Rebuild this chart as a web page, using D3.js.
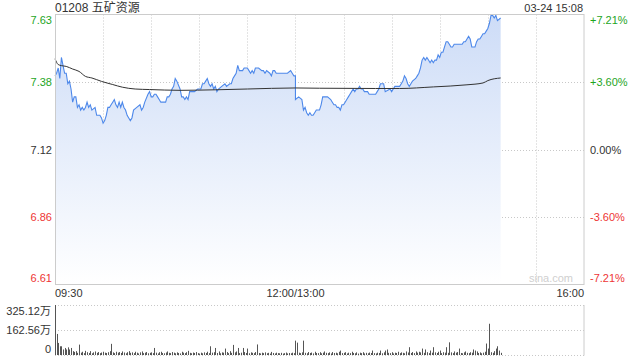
<!DOCTYPE html>
<html><head><meta charset="utf-8">
<script src="https://cdn.jsdelivr.net/npm/d3@7"></script>
<style>
html,body{margin:0;padding:0;background:#fff;}
svg text{font-family:"Liberation Sans",Arial,"Noto Sans CJK SC",sans-serif;}
</style></head>
<body><svg id="c" width="640" height="360"></svg>
<script>
const title = "01208 五矿资源";
const stamp = "03-24 15:08";
const preClose = 7.12;
const priceTickLabels = ["7.63","7.38","7.12","6.86","6.61"];
const pctTickLabels = ["+7.21%","+3.60%","0.00%","-3.60%","-7.21%"];
const timeLabels = ["09:30","12:00/13:00","16:00"];
const volTickLabels = ["325.12万","162.56万","0"];
const volMax = 325.12;

const priceTimes = ["09:30","09:31","09:32","09:33","09:34","09:35","09:36","09:37","09:38","09:39","09:40","09:41","09:42","09:43","09:44","09:45","09:46","09:47","09:48","09:49","09:50","09:51","09:52","09:53","09:55","09:56","09:57","09:58","09:59","10:00","10:01","10:02","10:03","10:04","10:05","10:06","10:07","10:08","10:09","10:10","10:11","10:12","10:13","10:14","10:15","10:16","10:17","10:18","10:19","10:21","10:23","10:24","10:25","10:26","10:28","10:29","10:30","10:31","10:32","10:33","10:34","10:35","10:36","10:37","10:38","10:39","10:40","10:41","10:42","10:43","10:44","10:45","10:46","10:48","10:49","10:50","10:51","10:52","10:53","10:54","10:57","10:59","11:01","11:02","11:03","11:04","11:05","11:06","11:07","11:08","11:09","11:10","11:11","11:12","11:14","11:16","11:17","11:19","11:20","11:21","11:22","11:23","11:24","11:25","11:26","11:27","11:28","11:29","11:30","11:31","11:32","11:33","11:34","11:35","11:37","11:39","11:40","11:41","11:42","11:44","11:45","11:46","11:47","11:48","11:49","11:55","11:57","11:58","11:59","12:00","13:00","13:02","13:04","13:05","13:06","13:07","13:08","13:09","13:10","13:11","13:12","13:13","13:14","13:15","13:16","13:17","13:18","13:19","13:20","13:22","13:23","13:24","13:25","13:26","13:27","13:28","13:29","13:30","13:31","13:32","13:33","13:34","13:35","13:36","13:37","13:38","13:39","13:40","13:41","13:42","13:43","13:45","13:46","13:50","13:51","13:52","13:53","13:54","13:55","13:56","13:59","14:00","14:01","14:02","14:05","14:06","14:07","14:08","14:09","14:10","14:11","14:12","14:13","14:15","14:16","14:17","14:18","14:19","14:20","14:21","14:22","14:23","14:24","14:25","14:26","14:27","14:28","14:29","14:30","14:31","14:32","14:33","14:34","14:35","14:36","14:37","14:38","14:39","14:40","14:42","14:43","14:44","14:45","14:46","14:47","14:48","14:49","14:50","14:52","14:53","14:54","14:55","14:56","14:57","14:58","14:59","15:00","15:01","15:02","15:03","15:04","15:05","15:06","15:08"];
const prices = [7.40,7.41,7.43,7.39,7.47,7.44,7.41,7.41,7.37,7.38,7.35,7.30,7.32,7.32,7.28,7.29,7.27,7.28,7.27,7.28,7.30,7.28,7.29,7.27,7.28,7.25,7.25,7.25,7.24,7.22,7.23,7.25,7.28,7.28,7.29,7.30,7.31,7.29,7.28,7.30,7.28,7.30,7.28,7.27,7.25,7.24,7.23,7.24,7.27,7.28,7.29,7.27,7.28,7.30,7.33,7.34,7.32,7.32,7.33,7.33,7.32,7.31,7.30,7.30,7.30,7.30,7.32,7.32,7.33,7.35,7.36,7.39,7.38,7.35,7.32,7.32,7.31,7.32,7.31,7.34,7.34,7.35,7.35,7.37,7.37,7.38,7.39,7.37,7.36,7.37,7.35,7.36,7.34,7.35,7.36,7.37,7.36,7.37,7.37,7.39,7.40,7.41,7.44,7.42,7.42,7.42,7.43,7.43,7.43,7.42,7.41,7.42,7.41,7.43,7.43,7.42,7.42,7.41,7.42,7.41,7.40,7.42,7.42,7.41,7.41,7.41,7.42,7.41,7.40,7.40,7.31,7.32,7.31,7.27,7.28,7.26,7.25,7.26,7.25,7.25,7.26,7.27,7.27,7.27,7.29,7.32,7.32,7.32,7.32,7.31,7.30,7.29,7.29,7.28,7.28,7.27,7.29,7.29,7.30,7.31,7.32,7.33,7.34,7.35,7.34,7.35,7.35,7.36,7.35,7.35,7.34,7.34,7.33,7.33,7.34,7.35,7.37,7.37,7.37,7.34,7.35,7.34,7.35,7.36,7.36,7.37,7.38,7.40,7.39,7.37,7.36,7.37,7.38,7.39,7.40,7.41,7.43,7.46,7.47,7.46,7.47,7.46,7.45,7.46,7.45,7.46,7.46,7.48,7.47,7.49,7.49,7.51,7.53,7.53,7.52,7.51,7.51,7.52,7.52,7.52,7.52,7.52,7.53,7.53,7.54,7.55,7.54,7.51,7.51,7.53,7.54,7.54,7.55,7.56,7.56,7.57,7.58,7.60,7.63,7.63,7.62,7.63,7.61,7.62];

const avgTimes = ["09:30","09:32","09:34","09:37","09:41","09:45","09:49","09:53","09:59","10:06","10:12","10:20","10:29","10:48","11:10","11:30","12:00","13:15","13:50","14:05","14:26","14:47","14:57","15:00","15:08"];
const avgPrices = [7.465,7.443,7.439,7.436,7.426,7.417,7.398,7.392,7.379,7.367,7.357,7.350,7.348,7.345,7.347,7.350,7.354,7.353,7.352,7.352,7.358,7.366,7.373,7.382,7.392];

// volume per trading minute from 09:30 (万股)
const volumes = [325,135,76,54,54,33,43,33,47,33,
43,22,17,22,11,65,12,18,9,24,
15,10,22,8,14,20,11,16,9,13,
18,12,10,15,22,70,14,9,18,12,
16,10,20,13,8,15,22,11,14,9,
18,12,7,14,20,9,12,16,8,11,
14,9,43,12,7,15,18,10,8,13,
20,11,9,16,12,8,14,10,7,18,
12,9,15,24,11,8,13,10,16,9,
6,12,8,14,10,18,9,54,12,15,
43,10,20,8,14,12,39,16,9,22,
11,63,14,20,43,9,12,43,16,10,
39,8,14,11,9,16,66,10,7,12,
9,14,8,11,6,17,10,7,12,9,
8,11,6,9,13,7,10,8,12,9,
91,78,12,9,14,91,11,8,16,10,
13,7,18,10,9,15,8,12,20,11,
9,14,7,16,10,12,8,18,26,9,
11,15,7,12,9,18,10,8,14,6,
12,9,15,7,11,8,13,10,26,9,
7,12,10,26,8,14,26,33,11,9,
15,7,12,10,18,9,14,11,8,20,
13,48,10,16,9,20,12,18,14,39,
11,33,15,9,26,12,48,14,10,18,
26,9,15,12,48,11,80,14,9,20,
12,16,39,10,8,14,20,11,9,15,
12,33,26,20,10,14,8,12,18,72,
39,202,15,11,22,39,54,26,11];

function tradeMin(s){
  const [h,m] = s.split(":").map(Number);
  const t = h*60+m;
  return t <= 720 ? t - 570 : t - 780 + 150;
}

const svg = d3.select("#c");
const L = 55, R = 584, T = 14.5, B = 284.5;
const VT = 305, VB = 354.5;
const green = "#1ea51e", red = "#ee3535", dark = "#333";

const x = d3.scaleLinear().domain([0,330]).range([L,R]);
const lo = preClose*(1-0.0721), hi = preClose*(1+0.0721);
const y = d3.scaleLinear().domain([lo,hi]).range([B,T]);
const vy = d3.scaleLinear().domain([0,volMax]).range([VB,VT]);
const tickVals = d3.range(5).map(i => hi - i*(hi-lo)/4);

// gradient
const defs = svg.append("defs");
const g1 = defs.append("linearGradient").attr("id","fillg").attr("x1",0).attr("y1",0).attr("x2",0).attr("y2",1)
  .attr("gradientUnits","userSpaceOnUse").attr("y1",T).attr("y2",B).attr("x1",0).attr("x2",0);
g1.append("stop").attr("offset","0%").attr("stop-color","#cddcf7");
g1.append("stop").attr("offset","100%").attr("stop-color","#ffffff");

// grid
const grid = svg.append("g");
grid.selectAll("line.h").data(tickVals.slice(1,4)).join("line")
  .attr("x1",L).attr("x2",R).attr("y1",d=>Math.round(y(d))+0.5).attr("y2",d=>Math.round(y(d))+0.5)
  .attr("stroke","#c8c8c8").attr("stroke-dasharray","1,2");
grid.selectAll("line.v").data(d3.range(30,330,30)).join("line")
  .attr("x1",d=>Math.round(x(d))+0.5).attr("x2",d=>Math.round(x(d))+0.5).attr("y1",T).attr("y2",B)
  .attr("stroke","#c8c8c8").attr("stroke-dasharray","1,2");

// area + lines
const pts = priceTimes.map((t,i)=>({m:tradeMin(t), p:prices[i]}));
svg.append("path").datum(pts)
  .attr("d", d3.area().x(d=>x(d.m)).y0(B).y1(d=>y(d.p)))
  .attr("fill","url(#fillg)");

// watermark
svg.append("text").attr("x",573).attr("y",282).attr("text-anchor","end")
  .attr("font-size",11).attr("fill","#cfcfcf").text("sina.com");

svg.append("path").datum(pts)
  .attr("d", d3.line().x(d=>x(d.m)).y(d=>y(d.p)))
  .attr("fill","none").attr("stroke","#4d88ea").attr("stroke-width",1.1);
const apts = avgTimes.map((t,i)=>({m:tradeMin(t), p:avgPrices[i]}));
svg.append("path").datum(apts)
  .attr("d", d3.line().curve(d3.curveMonotoneX).x(d=>x(d.m)).y(d=>y(d.p)))
  .attr("fill","none").attr("stroke","#333").attr("stroke-width",1);

// frame
svg.append("rect").attr("x",L+0.5).attr("y",T).attr("width",R-L-0.5).attr("height",B-T)
  .attr("fill","none").attr("stroke","#cccccc");

// axes labels
const colorFor = i => i<2 ? green : (i===2 ? dark : red);
const shift = i => i===0 ? 5.5 : (i===4 ? -6.5 : 0);
const la = svg.append("g").attr("transform",`translate(${L-3},0)`)
  .call(d3.axisLeft(y).tickValues(tickVals).tickSize(0).tickPadding(0).tickFormat((d,i)=>priceTickLabels[i]));
la.select(".domain").remove();
la.selectAll(".tick text").attr("font-size",11).attr("font-family",null)
  .attr("fill",(d,i)=>colorFor(i)).attr("transform",(d,i)=>`translate(0,${shift(i)})`);
const ra = svg.append("g").attr("transform",`translate(${R+6},0)`)
  .call(d3.axisRight(y).tickValues(tickVals).tickSize(0).tickPadding(0).tickFormat((d,i)=>pctTickLabels[i]));
ra.select(".domain").remove();
ra.selectAll(".tick text").attr("font-size",11).attr("font-family",null)
  .attr("fill",(d,i)=>colorFor(i)).attr("transform",(d,i)=>`translate(0,${shift(i)})`);

// time labels
const tm = [0,150,330];
const anchors = ["start","middle","end"];
svg.selectAll("text.t").data(timeLabels).join("text").attr("class","t")
  .attr("x",(d,i)=>x(tm[i])).attr("y",297).attr("text-anchor",(d,i)=>anchors[i])
  .attr("font-size",11).attr("fill",dark).text(d=>d);

// title
svg.append("text").attr("x",L).attr("y",12).attr("font-size",12).attr("fill",dark).text(title);
svg.append("text").attr("x",R-1).attr("y",12).attr("text-anchor","end").attr("font-size",11).attr("fill",dark).text(stamp);

// volume panel
const vg = svg.append("g");
[volMax, volMax/2, 0].forEach(v=>{
  vg.append("line").attr("x1",L).attr("x2",R).attr("y1",Math.round(vy(v))+0.5).attr("y2",Math.round(vy(v))+0.5)
    .attr("stroke","#c8c8c8").attr("stroke-dasharray","1,2");
});
vg.append("line").attr("x1",L+0.5).attr("x2",L+0.5).attr("y1",VT).attr("y2",VB+1).attr("stroke","#ccc");
vg.append("line").attr("x1",R).attr("x2",R).attr("y1",VT).attr("y2",VB+1).attr("stroke","#ccc");
vg.selectAll("rect").data(volumes).join("rect")
  .attr("x",(d,i)=>Math.round(x(i)))
  .attr("width",1)
  .attr("y",d=>vy(d)).attr("height",d=>VB-vy(d)+0.5)
  .attr("fill","#555");
const vShift = [6, 0, -6];
svg.selectAll("text.v").data(volTickLabels).join("text").attr("class","v")
  .attr("x",L-4).attr("y",(d,i)=>vy([volMax,volMax/2,0][i])+vShift[i]+4).attr("text-anchor","end")
  .attr("font-size",11).attr("fill",dark).text(d=>d);
</script></body></html>
